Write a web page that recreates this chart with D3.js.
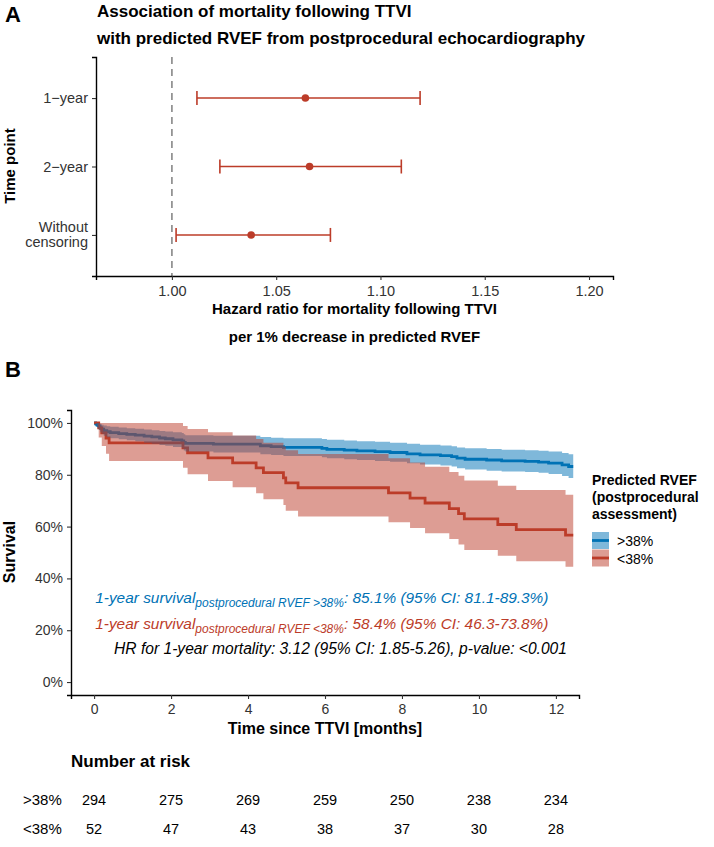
<!DOCTYPE html>
<html>
<head>
<meta charset="utf-8">
<script src="https://cdn.jsdelivr.net/npm/d3@7"></script>
<style>
  body { margin: 0; background: #fff; }
  svg { font-family: 'Liberation Sans', Arial, Helvetica, sans-serif; }
</style>
</head>
<body>
<script>
// ---- panel A data (hazard ratios) ----
var hrRows = ["1-year", "2-year", "Without censoring"];
var hrRowLabels = [["1\u2212year"], ["2\u2212year"], ["Without", "censoring"]];
var hrEst = [1.064, 1.066, 1.038];
var hrLow = [1.012, 1.023, 1.002];
var hrHigh = [1.119, 1.110, 1.076];
var hrTicks = [1.00, 1.05, 1.10, 1.15, 1.20];

// ---- panel B data (Kaplan-Meier) ----
var hiTime = [0, 0.04, 0.07, 0.10, 0.13, 0.16, 0.20, 0.25, 0.33, 0.42, 0.64, 0.85, 1.07, 1.30, 1.50, 1.70, 1.85, 2.05, 2.28, 2.33, 2.37, 3.10, 4.32, 4.60, 4.92, 5.92, 6.05, 6.50, 6.83, 7.30, 7.69, 8.13, 8.47, 9.00, 9.29, 9.43, 9.64, 10.20, 10.59, 11.20, 11.55, 11.81, 12.16, 12.33, 12.45];
var hiSurv = [1, .997, .993, .990, .986, .980, .976, .970, .966, .963, .959, .956, .953, .949, .946, .942, .939, .935, .931, .925, .921, .918, .912, .909, .906, .902, .898, .895, .892, .889, .886, .881, .877, .874, .870, .864, .860, .857, .854, .852, .849, .845, .838, .832, .832];
var hiLow = [1, .991, .984, .979, .973, .964, .958, .951, .945, .941, .937, .933, .929, .924, .920, .915, .912, .907, .902, .894, .890, .886, .879, .876, .872, .868, .864, .860, .857, .853, .850, .844, .840, .836, .832, .825, .820, .816, .813, .811, .808, .803, .795, .788, .788];
var hiUp = [1, 1, 1, 1, .999, .996, .993, .990, .987, .985, .982, .980, .978, .975, .972, .969, .967, .964, .961, .956, .953, .951, .946, .943, .941, .938, .935, .932, .929, .927, .924, .920, .916, .913, .910, .905, .902, .899, .897, .895, .893, .890, .884, .879, .879];

var loTime = [0, 0.12, 0.20, 0.31, 0.39, 2.31, 2.43, 2.96, 3.60, 4.21, 4.40, 4.92, 4.98, 5.30, 7.65, 8.21, 8.60, 9.23, 9.47, 9.62, 10.49, 10.97, 12.25, 12.45];
var loSurv = [1, .981, .962, .942, .923, .904, .885, .865, .846, .827, .808, .788, .769, .750, .730, .710, .691, .669, .650, .630, .608, .588, .567, .567];
var loLow = [1, .944, .911, .881, .853, .827, .802, .776, .752, .729, .706, .683, .661, .639, .617, .595, .574, .552, .531, .510, .487, .466, .445, .445];
var loUp = [1, 1, 1, 1, 1, .988, .977, .964, .952, .938, .924, .909, .895, .880, .864, .847, .831, .811, .796, .778, .758, .741, .723, .723];

var groupNames = [">38%", "<38%"];
var riskTimes = [0, 2, 4, 6, 8, 10, 12];
var riskHi = [294, 275, 269, 259, 250, 238, 234];
var riskLo = [52, 47, 43, 38, 37, 30, 28];
var survTicks = [0, 0.2, 0.4, 0.6, 0.8, 1.0];

var blue = "#0072B5", red = "#BC3C29";

var svg = d3.select("body").append("svg")
    .attr("width", 714)
    .attr("height", 847);

svg.append("rect").attr("width", 714).attr("height", 847).attr("fill", "#fff");

// ================= PANEL A =================
svg.append("text").attr("x", 5).attr("y", 22)
   .attr("font-size", 22).attr("font-weight", "bold").text("A");

svg.append("text").attr("x", 97).attr("y", 17)
   .attr("font-size", 17).attr("font-weight", "bold")
   .text("Association of mortality following TTVI");
svg.append("text").attr("x", 97).attr("y", 44)
   .attr("font-size", 17).attr("font-weight", "bold")
   .text("with predicted RVEF from postprocedural echocardiography");

var xA = d3.scaleLinear().domain([0.9636, 1.2115]).range([96, 613]);
var yA = d3.scalePoint().domain(hrRows).range([57, 276]).padding(0.6);

// dashed reference line
svg.append("line")
   .attr("x1", xA(1)).attr("x2", xA(1))
   .attr("y1", 57).attr("y2", 276)
   .attr("stroke", "#7f7f7f").attr("stroke-width", 1.5)
   .attr("stroke-dasharray", "7,5");

var gA = svg.append("g");
hrRows.forEach(function(r, i) {
  var y = yA(r);
  gA.append("line").attr("x1", xA(hrLow[i])).attr("x2", xA(hrHigh[i]))
    .attr("y1", y).attr("y2", y).attr("stroke", red).attr("stroke-width", 1.6);
  [hrLow[i], hrHigh[i]].forEach(function(v) {
    gA.append("line").attr("x1", xA(v)).attr("x2", xA(v))
      .attr("y1", y - 7).attr("y2", y + 7).attr("stroke", red).attr("stroke-width", 1.6);
  });
  gA.append("circle").attr("cx", xA(hrEst[i])).attr("cy", y).attr("r", 3.8).attr("fill", red);
});

var axA = svg.append("g").attr("transform", "translate(0,276)")
   .call(d3.axisBottom(xA).tickValues(hrTicks).tickFormat(d3.format(".2f")).tickSize(4).tickPadding(6));
var ayA = svg.append("g").attr("transform", "translate(96,0)")
   .call(d3.axisLeft(yA).tickSize(4).tickPadding(4).tickFormat(""));

[axA, ayA].forEach(function(g) {
  g.select(".domain").attr("stroke", "#000").attr("stroke-width", 1.4);
  g.selectAll(".tick line").attr("stroke", "#333").attr("stroke-width", 1.1);
  g.selectAll(".tick text").attr("font-size", 14.5).attr("fill", "#333")
   .attr("font-family", null);
});

hrRows.forEach(function(r, i) {
  var lines = hrRowLabels[i];
  var t = svg.append("text").attr("text-anchor", "end")
     .attr("font-size", 14.5).attr("fill", "#333");
  lines.forEach(function(l, j) {
    t.append("tspan").attr("x", 88)
     .attr("y", yA(r) + 5 + (j - (lines.length - 1) / 2) * 15)
     .text(l);
  });
});

svg.append("text").attr("transform", "translate(15,166) rotate(-90)")
   .attr("text-anchor", "middle").attr("font-size", 15).attr("font-weight", "bold")
   .text("Time point");

svg.append("text").attr("x", 354.5).attr("y", 314)
   .attr("text-anchor", "middle").attr("font-size", 15).attr("font-weight", "bold")
   .text("Hazard ratio for mortality following TTVI");
svg.append("text").attr("x", 354.5).attr("y", 342)
   .attr("text-anchor", "middle").attr("font-size", 15).attr("font-weight", "bold")
   .text("per 1% decrease in predicted RVEF");

// ================= PANEL B =================
svg.append("text").attr("x", 5).attr("y", 377)
   .attr("font-size", 22).attr("font-weight", "bold").text("B");

var xB = d3.scaleLinear().domain([-0.6, 12.6]).range([71, 579]);
var yB = d3.scaleLinear().domain([-0.05, 1.05]).range([695, 410]);

function rows(time, surv, low, up) {
  return time.map(function(t, i) { return {t: t, s: surv[i], lo: low[i], up: up[i]}; });
}
var hiData = rows(hiTime, hiSurv, hiLow, hiUp);
var loData = rows(loTime, loSurv, loLow, loUp);

var line = d3.line().curve(d3.curveStepAfter)
    .x(function(d) { return xB(d.t); })
    .y(function(d) { return yB(d.s); });
var area = d3.area().curve(d3.curveStepAfter)
    .x(function(d) { return xB(d.t); })
    .y0(function(d) { return yB(d.lo); })
    .y1(function(d) { return yB(d.up); });

// lines first, confidence ribbons drawn over them
svg.append("path").datum(hiData).attr("d", line)
   .attr("fill", "none").attr("stroke", blue).attr("stroke-width", 2.8);
svg.append("path").datum(loData).attr("d", line)
   .attr("fill", "none").attr("stroke", red).attr("stroke-width", 2.8);
svg.append("path").datum(hiData).attr("d", area)
   .attr("fill", blue).attr("fill-opacity", 0.5);
svg.append("path").datum(loData).attr("d", area)
   .attr("fill", red).attr("fill-opacity", 0.5);

var axB = svg.append("g").attr("transform", "translate(0,695)")
   .call(d3.axisBottom(xB).tickValues(riskTimes).tickSize(4).tickPadding(5));
var ayB = svg.append("g").attr("transform", "translate(71,0)")
   .call(d3.axisLeft(yB).tickValues(survTicks).tickFormat(d3.format(".0%")).tickSize(4).tickPadding(4));
[axB, ayB].forEach(function(g) {
  g.select(".domain").attr("stroke", "#000").attr("stroke-width", 1.4);
  g.selectAll(".tick line").attr("stroke", "#333").attr("stroke-width", 1.1);
  g.selectAll(".tick text").attr("font-size", 14).attr("fill", "#333")
   .attr("font-family", null);
});

svg.append("text").attr("transform", "translate(15,552) rotate(-90)")
   .attr("text-anchor", "middle").attr("font-size", 16).attr("font-weight", "bold")
   .text("Survival");
svg.append("text").attr("x", 325).attr("y", 734)
   .attr("text-anchor", "middle").attr("font-size", 16).attr("font-weight", "bold")
   .text("Time since TTVI [months]");

// annotations
function survNote(y, color, sub, rest) {
  var t = svg.append("text").attr("x", xB(0.03)).attr("y", y)
     .attr("font-size", 15.4).attr("font-style", "italic").attr("fill", color);
  t.append("tspan").text("1-year survival");
  t.append("tspan").attr("font-size", 12).attr("dy", 4).text(sub);
  t.append("tspan").attr("dy", -4).text(rest);
}
survNote(yB(0.305), blue, "postprocedural RVEF >38%", ": 85.1% (95% CI: 81.1-89.3%)");
survNote(yB(0.205), red, "postprocedural RVEF <38%", ": 58.4% (95% CI: 46.3-73.8%)");
svg.append("text").attr("x", xB(0.52)).attr("y", yB(0.108))
   .attr("font-size", 15.6).attr("font-style", "italic").attr("fill", "#000")
   .text("HR for 1-year mortality: 3.12 (95% CI: 1.85-5.26), p-value: <0.001");

// legend
var lg = svg.append("g").attr("transform", "translate(592,0)");
["Predicted RVEF", "(postprocedural", "assessment)"].forEach(function(s, i) {
  lg.append("text").attr("x", 0).attr("y", 485 + i * 17)
    .attr("font-size", 14).attr("font-weight", "bold").text(s);
});
[blue, red].forEach(function(c, i) {
  var y0 = 532 + i * 17.5;
  lg.append("rect").attr("x", 0).attr("y", y0).attr("width", 17).attr("height", 17)
    .attr("fill", c).attr("fill-opacity", 0.5);
  lg.append("line").attr("x1", 0).attr("x2", 17).attr("y1", y0 + 8.5).attr("y2", y0 + 8.5)
    .attr("stroke", c).attr("stroke-width", 2.8);
  lg.append("text").attr("x", 25).attr("y", y0 + 14).attr("font-size", 14)
    .text(groupNames[i]);
});

// number at risk table
svg.append("text").attr("x", 71).attr("y", 767)
   .attr("font-size", 17).attr("font-weight", "bold").text("Number at risk");
[riskHi, riskLo].forEach(function(arr, g) {
  var y = 805 + g * 29;
  svg.append("text").attr("x", 23).attr("y", y).attr("font-size", 15).text(groupNames[g]);
  arr.forEach(function(n, i) {
    svg.append("text").attr("x", xB(riskTimes[i])).attr("y", y)
       .attr("text-anchor", "middle").attr("font-size", 14.5).text(n);
  });
});
</script>
</body>
</html>
